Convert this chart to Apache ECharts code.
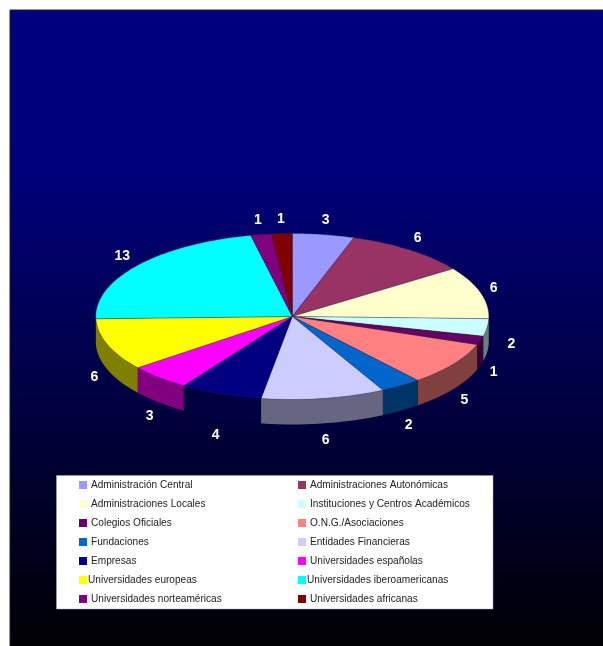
<!DOCTYPE html>
<html>
<head>
<meta charset="utf-8">
<style>html,body{margin:0;padding:0;background:#fff}#c{width:603px;height:646px}</style>
<script src="https://cdn.jsdelivr.net/npm/echarts@6/dist/echarts.min.js"></script>
</head>
<body>
<div id="c"></div>
<script>
const categories = ["Administración Central","Administraciones Autonómicas","Administraciones Locales","Instituciones y Centros Académicos","Colegios Oficiales","O.N.G./Asociaciones","Fundaciones","Entidades Financieras","Empresas","Universidades españolas","Universidades europeas","Universidades iberoamericanas","Universidades norteaméricas","Universidades africanas"];
const values = [3,6,6,2,1,5,2,6,4,3,6,13,1,1];
const colors = ["#9999FF","#993366","#FFFFCC","#CCFFFF","#660066","#FF8080","#0066CC","#CCCCFF","#000080","#FF00FF","#FFFF00","#00FFFF","#800080","#800000"];
const wallColors = ["#4d4d80","#4d1a33","#808066","#668080","#330033","#804040","#003366","#666680","#000040","#800080","#808000","#008080","#400040","#400000"];

const CX=292.3, CY=316.5, RX=196.5, RY=83, DEPTH=25;
const total = values.reduce((a,b)=>a+b,0);
const ptTop = (deg)=>{const r=deg*Math.PI/180;return [CX+RX*Math.sin(r), CY-RY*Math.cos(r)];};

function renderSlice(params, api){
  const start=api.value(0), val=api.value(1), i=params.seriesIndex;
  const a0=start/total*360, a1=(start+val)/total*360;
  const arc=[];
  for(let a=a0;a<a1;a+=1) arc.push(ptTop(a));
  arc.push(ptTop(a1));
  const children=[];
  const w0=Math.max(a0,90), w1=Math.min(a1,270);
  if(w1>w0){
    const rim=[];
    for(let a=w0;a<w1;a+=1) rim.push(ptTop(a));
    rim.push(ptTop(w1));
    const low=rim.slice().reverse().map(p=>[p[0],p[1]+DEPTH]);
    children.push({type:'polygon',shape:{points:rim.concat(low)},style:{fill:wallColors[i]}});
  }
  children.push({type:'polygon',shape:{points:[[CX,CY]].concat(arc)},
    style:{fill:colors[i],stroke:'rgba(40,40,60,0.55)',lineWidth:0.6}});
  const mid=(a0+a1)/2*Math.PI/180, c=Math.cos(mid), s=Math.sin(mid);
  const kx=(c>0&&s<0)?1.1:1.07;
  const lx=CX+kx*RX*s+(s>0&&c<0?20*Math.max(0,1+c*3.5):0);
  const ly=CY-1.17*RY*c+(c<0?(DEPTH+3)*Math.min(1,-c*4):0);
  children.push({type:'text',style:{x:lx,y:ly,text:String(val),fill:'#fff',
    font:'bold 14px "Liberation Sans", Arial, sans-serif',align:'center',verticalAlign:'middle'}});
  return {type:'group',children};
}

let cum=0;
const series=categories.map((name,i)=>{
  const s={type:'custom',name,coordinateSystem:'none',renderItem:renderSlice,silent:true,animation:false,
    itemStyle:{color:colors[i]},data:[[cum,values[i]]]};
  cum+=values[i];
  return s;
});

const legendText={color:'#222',fontFamily:'"Liberation Sans", Arial, sans-serif',fontSize:10.1,lineHeight:11,padding:[0,0,0,-1]};
const tight=new Set(["Universidades europeas","Universidades iberoamericanas"]);
const legendCol=(rem,left)=>({
  orient:'vertical',left,top:479.5,itemWidth:8,itemHeight:8,itemGap:8,padding:0,selectedMode:false,icon:'rect',
  textStyle:legendText,
  data:categories.filter((_,i)=>i%2===rem).map(n=>tight.has(n)
    ?{name:n,textStyle:{padding:[0,0,0,-4]}}:{name:n})
});

const chart=echarts.init(document.getElementById('c'),null,{renderer:'canvas'});
chart.setOption({
  animation:false,
  backgroundColor:'#fff',
  graphic:[
    {type:'rect',z:-10,shape:{x:10,y:10,width:600,height:650},
      style:{fill:new echarts.graphic.LinearGradient(0,0,0,1,[{offset:0,color:'#000080'},{offset:0.25,color:'#00007a'},{offset:1,color:'#000000'}]),stroke:'#222',lineWidth:1}},
    {type:'rect',z:-9,shape:{x:56.5,y:475.5,width:436.5,height:133.5},style:{fill:'#fff',stroke:'#aaa',lineWidth:0.5}}
  ],
  legend:[legendCol(0,79),legendCol(1,298)],
  series
});
</script>
</body>
</html>
